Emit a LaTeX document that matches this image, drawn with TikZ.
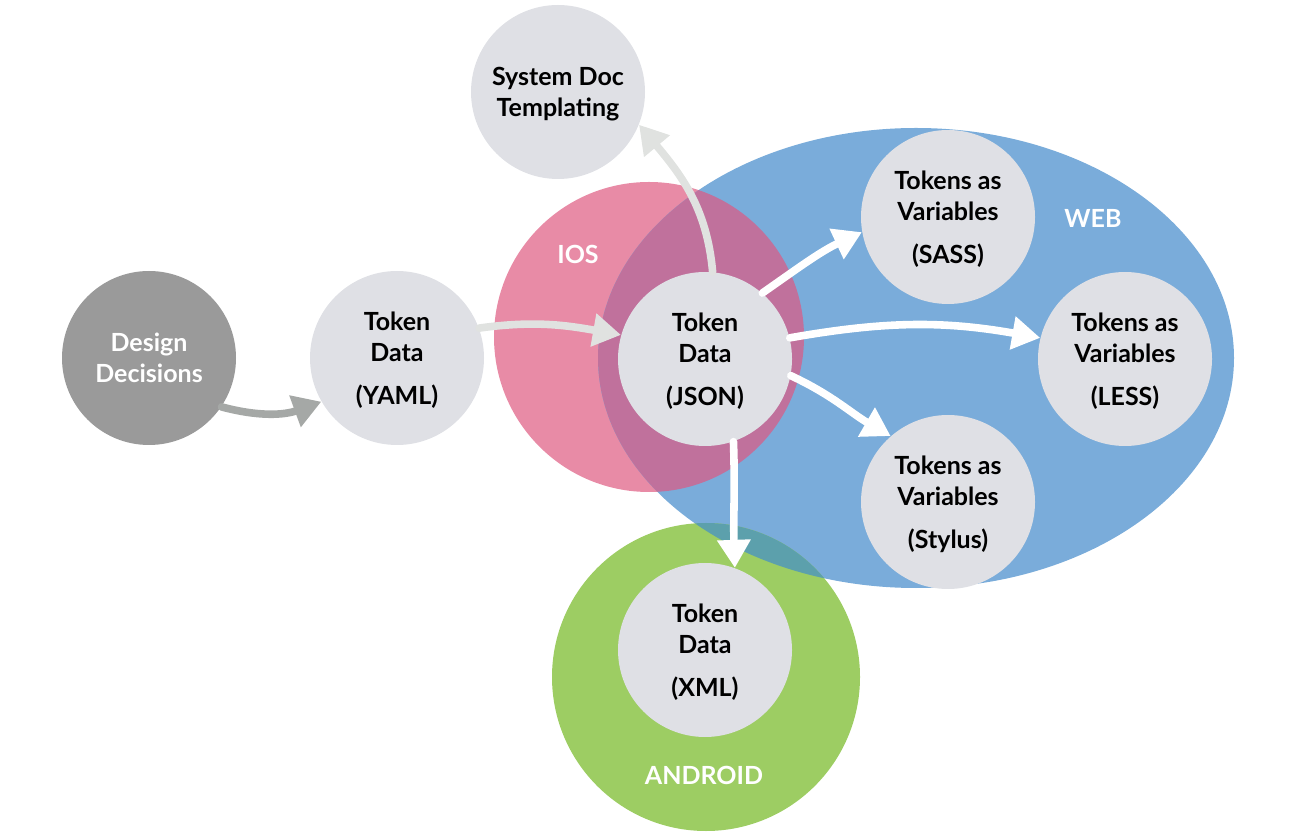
\documentclass[tikz,border=0pt]{standalone}
\usepackage{fontspec}
\setmainfont{Lato}
\usetikzlibrary{arrows.meta}
\definecolor{tokengray}{RGB}{223,224,229}
\definecolor{decisiongray}{RGB}{154,154,154}
\definecolor{iospink}{RGB}{232,139,166}
\definecolor{webblue}{RGB}{122,172,218}
\definecolor{iosweb}{RGB}{192,113,156}
\definecolor{droidgreen}{RGB}{157,205,99}
\definecolor{droidweb}{RGB}{92,160,172}
\definecolor{flowdark}{RGB}{165,168,166}
\definecolor{flowlight}{RGB}{224,226,224}

\begin{document}
\begin{tikzpicture}[
    x=0.5pt, y=-0.5pt,
    every node/.style={font=\fontsize{12.5}{15.5}\selectfont\bfseries},
    token/.style={circle, fill=tokengray, minimum size=87pt, inner sep=0pt,
                  text centered, align=center, text=black, text depth=0pt},
    decision/.style={token, fill=decisiongray, text=white},
    platform/.style={text=white},
    flow/.style={line width=3.8pt, line cap=round,
                 -{Triangle[length=14pt, width=16pt]}},
    darkflow/.style={flow, color=flowdark},
    lightflow/.style={flow, color=flowlight},
    outflow/.style={flow, color=white}
]
\useasboundingbox (0,0) rectangle (1294,838);

% Platform areas
\fill[iospink] (649,337) circle (155);
\fill[webblue] (916,358) ellipse (318 and 230);
\begin{scope}
  \clip (649,337) circle (155);
  \fill[iosweb] (916,358) ellipse (318 and 230);
\end{scope}
\fill[droidgreen] (706,677) circle (154);
\begin{scope}
  \clip (706,677) circle (154);
  \fill[droidweb] (916,358) ellipse (318 and 230);
\end{scope}

\node[platform] (ios) at (578,254) {IOS};
\node[platform] (web) at (1093,218) {WEB};
\node[platform] (android) at (704,775) {ANDROID};

% Steps
\node[decision] (design) at (149,358) {Design\\Decisions};
\node[token] (yaml) at (397,358) {Token\\Data\\[6pt](YAML)};
\node[token] (json) at (705,359) {Token\\Data\\[6pt](JSON)};
\node[token] (doc)  at (558,92)  {System Doc\\Templating};
\node[token] (sass) at (948,217) {Tokens as\\Variables\\[6pt](SASS)};
\node[token] (less) at (1125,359) {Tokens as\\Variables\\[6pt](LESS)};
\node[token] (stylus) at (948,502) {Tokens as\\Variables\\[6pt](Stylus)};
\node[token] (xml)  at (705,650) {Token\\Data\\[6pt](XML)};

% Flow
\draw[darkflow] (design.-34) to[out=-15, in=200] (yaml.210);
\draw[lightflow] (yaml.20) to[out=8, in=170] (json.164);
\draw[lightflow] (json.85) to[out=95, in=-50] (doc.-22);
\draw[outflow] (json.49) to[out=35, in=205] (sass.190);
\draw[outflow] (json.14) to[out=10, in=170] (less.166);
\draw[outflow] (json.-11) to[out=-25, in=150] (stylus.131);
\draw[outflow] (json.-71) to[out=-88, in=92] (xml.70);

\end{tikzpicture}
\end{document}
